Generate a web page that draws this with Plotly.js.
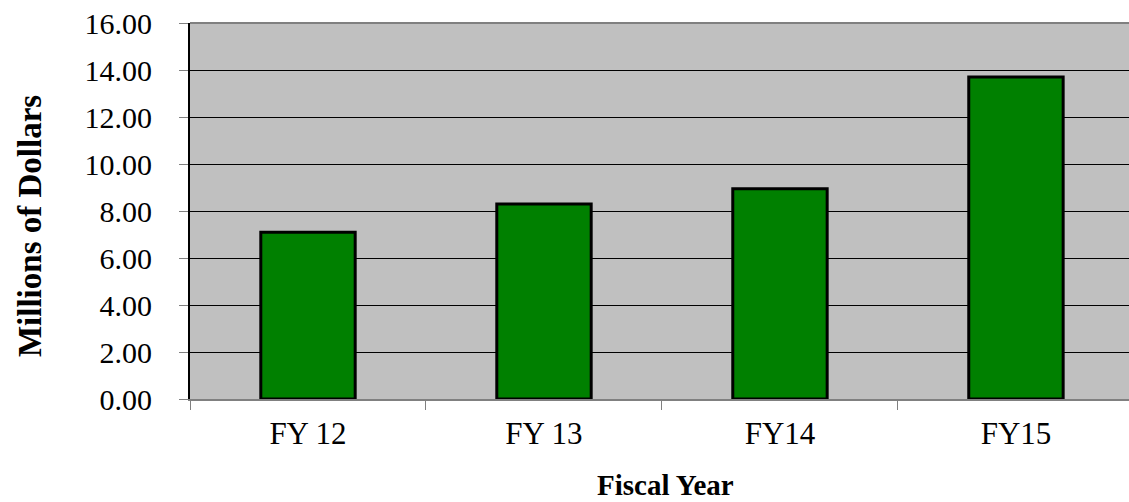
<!DOCTYPE html>
<html>
<head>
<meta charset="utf-8">
<script src="https://cdn.plot.ly/plotly-3.0.1.min.js"></script>
<style>html,body{margin:0;padding:0;background:#fff;}#chart{width:1129px;height:502px;}</style>
</head>
<body>
<div id="chart"></div>
<script>
const categories = ["FY 12", "FY 13", "FY14", "FY15"];
const values = [7.1, 8.3, 8.95, 13.7];
const yTitle = "Millions of Dollars";
const xTitle = "Fiscal Year";

const trace = {
  type: "bar",
  x: categories,
  y: values,
  width: 0.4,
  marker: {color: "#008000", line: {color: "#000000", width: 3}},
  hoverinfo: "x+y"
};

const font = "'Liberation Serif', 'Times New Roman', serif";

const layout = {
  width: 1129, height: 502,
  margin: {l: 190, r: 0, t: 23, b: 103},
  paper_bgcolor: "#ffffff",
  plot_bgcolor: "#C0C0C0",
  showlegend: false,
  bargap: 0.6,
  font: {family: font, color: "#000"},
  xaxis: {
    type: "category",
    range: [-0.5, 3.479],
    tickson: "boundaries",
    ticks: "outside", ticklen: 9, tickcolor: "#808080", tickwidth: 1,
    showline: true, linecolor: "#808080", linewidth: 2,
    showgrid: false, zeroline: false,
    tickfont: {family: font, size: 31, color: "#000"},
    ticklabelstandoff: 6
  },
  yaxis: {
    range: [0, 16], dtick: 2, tickformat: ".2f",
    ticks: "outside", ticklen: 9, tickcolor: "#808080", tickwidth: 1,
    showline: true, linecolor: "#000000", linewidth: 2,
    showgrid: true, gridcolor: "#000000", gridwidth: 1,
    zeroline: false,
    tickfont: {family: font, size: 30, color: "#000"},
    ticklabelstandoff: 21
  },
  annotations: [
    {text: "<b>" + xTitle + "</b>", xref: "paper", yref: "paper", x: 0.5059, y: 0,
     xanchor: "center", yanchor: "bottom", yshift: -103, showarrow: false, borderpad: 0,
     font: {family: font, size: 29, color: "#000"}},
    {text: "<b>" + yTitle + "</b>", xref: "paper", yref: "paper", x: 0, y: 0.46,
     xanchor: "center", yanchor: "middle", xshift: -160, textangle: -90, showarrow: false,
     font: {family: font, size: 33, color: "#000"}}
  ],
  shapes: [
    {type: "line", xref: "paper", yref: "paper", x0: 0, x1: 1, y0: 1, y1: 1, line: {color: "#808080", width: 2}}
  ]
};

Plotly.newPlot("chart", [trace], layout, {displayModeBar: false, staticPlot: true});
</script>
</body>
</html>
